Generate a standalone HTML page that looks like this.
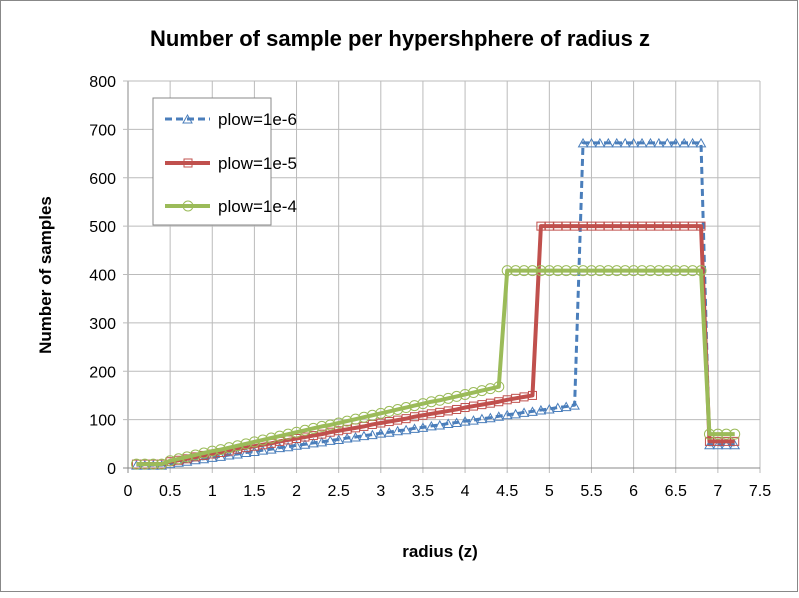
<!DOCTYPE html>
<html><head><meta charset="utf-8"><style>
body{margin:0;background:#fff;font-family:"Liberation Sans",sans-serif}
</style></head><body>
<svg id="c" width="799" height="593" xmlns="http://www.w3.org/2000/svg">
<rect x="0.5" y="0.5" width="797" height="591" fill="#fff" stroke="#888"/>
<text x="400" y="46" text-anchor="middle" font-size="22" font-weight="bold">Number of sample per hypershphere of radius z</text>
<text x="440" y="557" text-anchor="middle" font-size="17" font-weight="bold">radius (z)</text>
<text transform="translate(51,275) rotate(-90)" text-anchor="middle" font-size="17" font-weight="bold">Number of samples</text>
<g id="grid"></g><g id="series"></g>
<g>
<rect x="153" y="98" width="118" height="127" fill="#fff" stroke="#888"/>
<g>
<line x1="165" y1="119" x2="210" y2="119" stroke="#4a7ebb" stroke-width="3" stroke-dasharray="7,4"/>
<path d="M183,123 L187.5,115 L192,123 Z" fill="none" stroke="#4a7ebb"/>
<text x="218" y="125" font-size="17">plow=1e-6</text></g>
<g>
<line x1="165" y1="163" x2="210" y2="163" stroke="#c0504d" stroke-width="4"/>
<rect x="184" y="159" width="8" height="8" fill="none" stroke="#c0504d"/>
<text x="218" y="169" font-size="17">plow=1e-5</text></g>
<g>
<line x1="165" y1="206" x2="210" y2="206" stroke="#9bbb59" stroke-width="4"/>
<circle cx="188" cy="206" r="5" fill="none" stroke="#9bbb59"/>
<text x="218" y="212" font-size="17">plow=1e-4</text></g>
</g>
</svg>
<script>
const xs=[0.1,0.2,0.3,0.4,0.5,0.6,0.7,0.8,0.9,1.0,1.1,1.2,1.3,1.4,1.5,1.6,1.7,1.8,1.9,2.0,2.1,2.2,2.3,2.4,2.5,2.6,2.7,2.8,2.9,3.0,3.1,3.2,3.3,3.4,3.5,3.6,3.7,3.8,3.9,4.0,4.1,4.2,4.3,4.4,4.5,4.6,4.7,4.8,4.9,5.0,5.1,5.2,5.3,5.4,5.5,5.6,5.7,5.8,5.9,6.0,6.1,6.2,6.3,6.4,6.5,6.6,6.7,6.8,6.9,7.0,7.1,7.2];
const blue=[6,6,6,6,9,12,14,17,19,22,24,27,29,32,34,37,39,42,44,47,49,52,54,57,59,62,64,67,69,72,74,77,79,82,84,87,89,92,94,97,99,102,104,107,110,112,115,117,120,122,125,127,130,672,672,672,672,672,672,672,672,672,672,672,672,672,672,672,48,48,48,48];
const red=[8,8,8,8,13,16,19,23,26,29,32,35,39,42,45,48,51,55,58,61,64,67,70,74,77,80,83,86,90,93,96,99,102,106,109,112,115,118,121,125,128,131,134,137,141,144,147,150,500,500,500,500,500,500,500,500,500,500,500,500,500,500,500,500,500,500,500,500,55,55,55,55];
const green=[8,8,8,8,15,19,23,27,31,35,38,42,46,50,54,58,62,66,70,74,78,82,86,89,93,97,101,105,109,113,117,121,125,129,133,137,140,144,148,152,156,160,164,168,408,408,408,408,408,408,408,408,408,408,408,408,408,408,408,408,408,408,408,408,408,408,408,408,70,70,70,70];
const xTicks=[0,0.5,1,1.5,2,2.5,3,3.5,4,4.5,5,5.5,6,6.5,7,7.5];
const yTicks=[0,100,200,300,400,500,600,700,800];
const NS="http://www.w3.org/2000/svg";
const X0=128,X1=760,Y0=468,Y1=81;
const sx=v=>X0+(v/7.5)*(X1-X0), sy=v=>Y0-(v/800)*(Y0-Y1);
function mk(t,a,p){const e=document.createElementNS(NS,t);for(const k in a)e.setAttribute(k,a[k]);p.appendChild(e);return e;}
const g=document.getElementById('grid');
xTicks.forEach(t=>{const l=mk('line',{x1:sx(t),x2:sx(t),y1:Y1,y2:Y0+5,stroke:t===0?'#888':'#bbb'},g);


const tx=mk('text',{x:sx(t),y:Y0+28,'text-anchor':'middle','font-size':'16'},g);tx.textContent=t;

});
yTicks.forEach(t=>{const l=mk('line',{x1:X0-5,x2:X1,y1:sy(t),y2:sy(t),stroke:t===0?'#888':'#bbb'},g);


const tx=mk('text',{x:X0-12,y:sy(t)+6,'text-anchor':'end','font-size':'16'},g);tx.textContent=t;

});
const S=document.getElementById('series');
function draw(vals,color,w,dash,marker,name){
const grp=mk('g',{},S);


const pts=vals.map((v,i)=>sx(xs[i])+','+sy(v)).join(' ');
const a={points:pts,fill:'none',stroke:color,'stroke-width':w,'stroke-linejoin':'round'};if(dash)a['stroke-dasharray']=dash;
mk('polyline',a,grp);
vals.forEach((v,i)=>{const x=sx(xs[i]),y=sy(v);let m;
if(marker==='tri')m=mk('path',{d:`M${x-4.5},${y+4} L${x},${y-4} L${x+4.5},${y+4} Z`,fill:'none',stroke:color,'stroke-width':1},grp);
else if(marker==='sq')m=mk('rect',{x:x-4,y:y-4,width:8,height:8,fill:'none',stroke:color,'stroke-width':1},grp);
else m=mk('circle',{cx:x,cy:y,r:5,fill:'none',stroke:color,'stroke-width':1},grp);

});}
draw(blue,'#4a7ebb',3,'7,4','tri','series-plow-1e-6');
draw(red,'#c0504d',4,null,'sq','series-plow-1e-5');
draw(green,'#9bbb59',4,null,'circ','series-plow-1e-4');
</script>
</body></html>
